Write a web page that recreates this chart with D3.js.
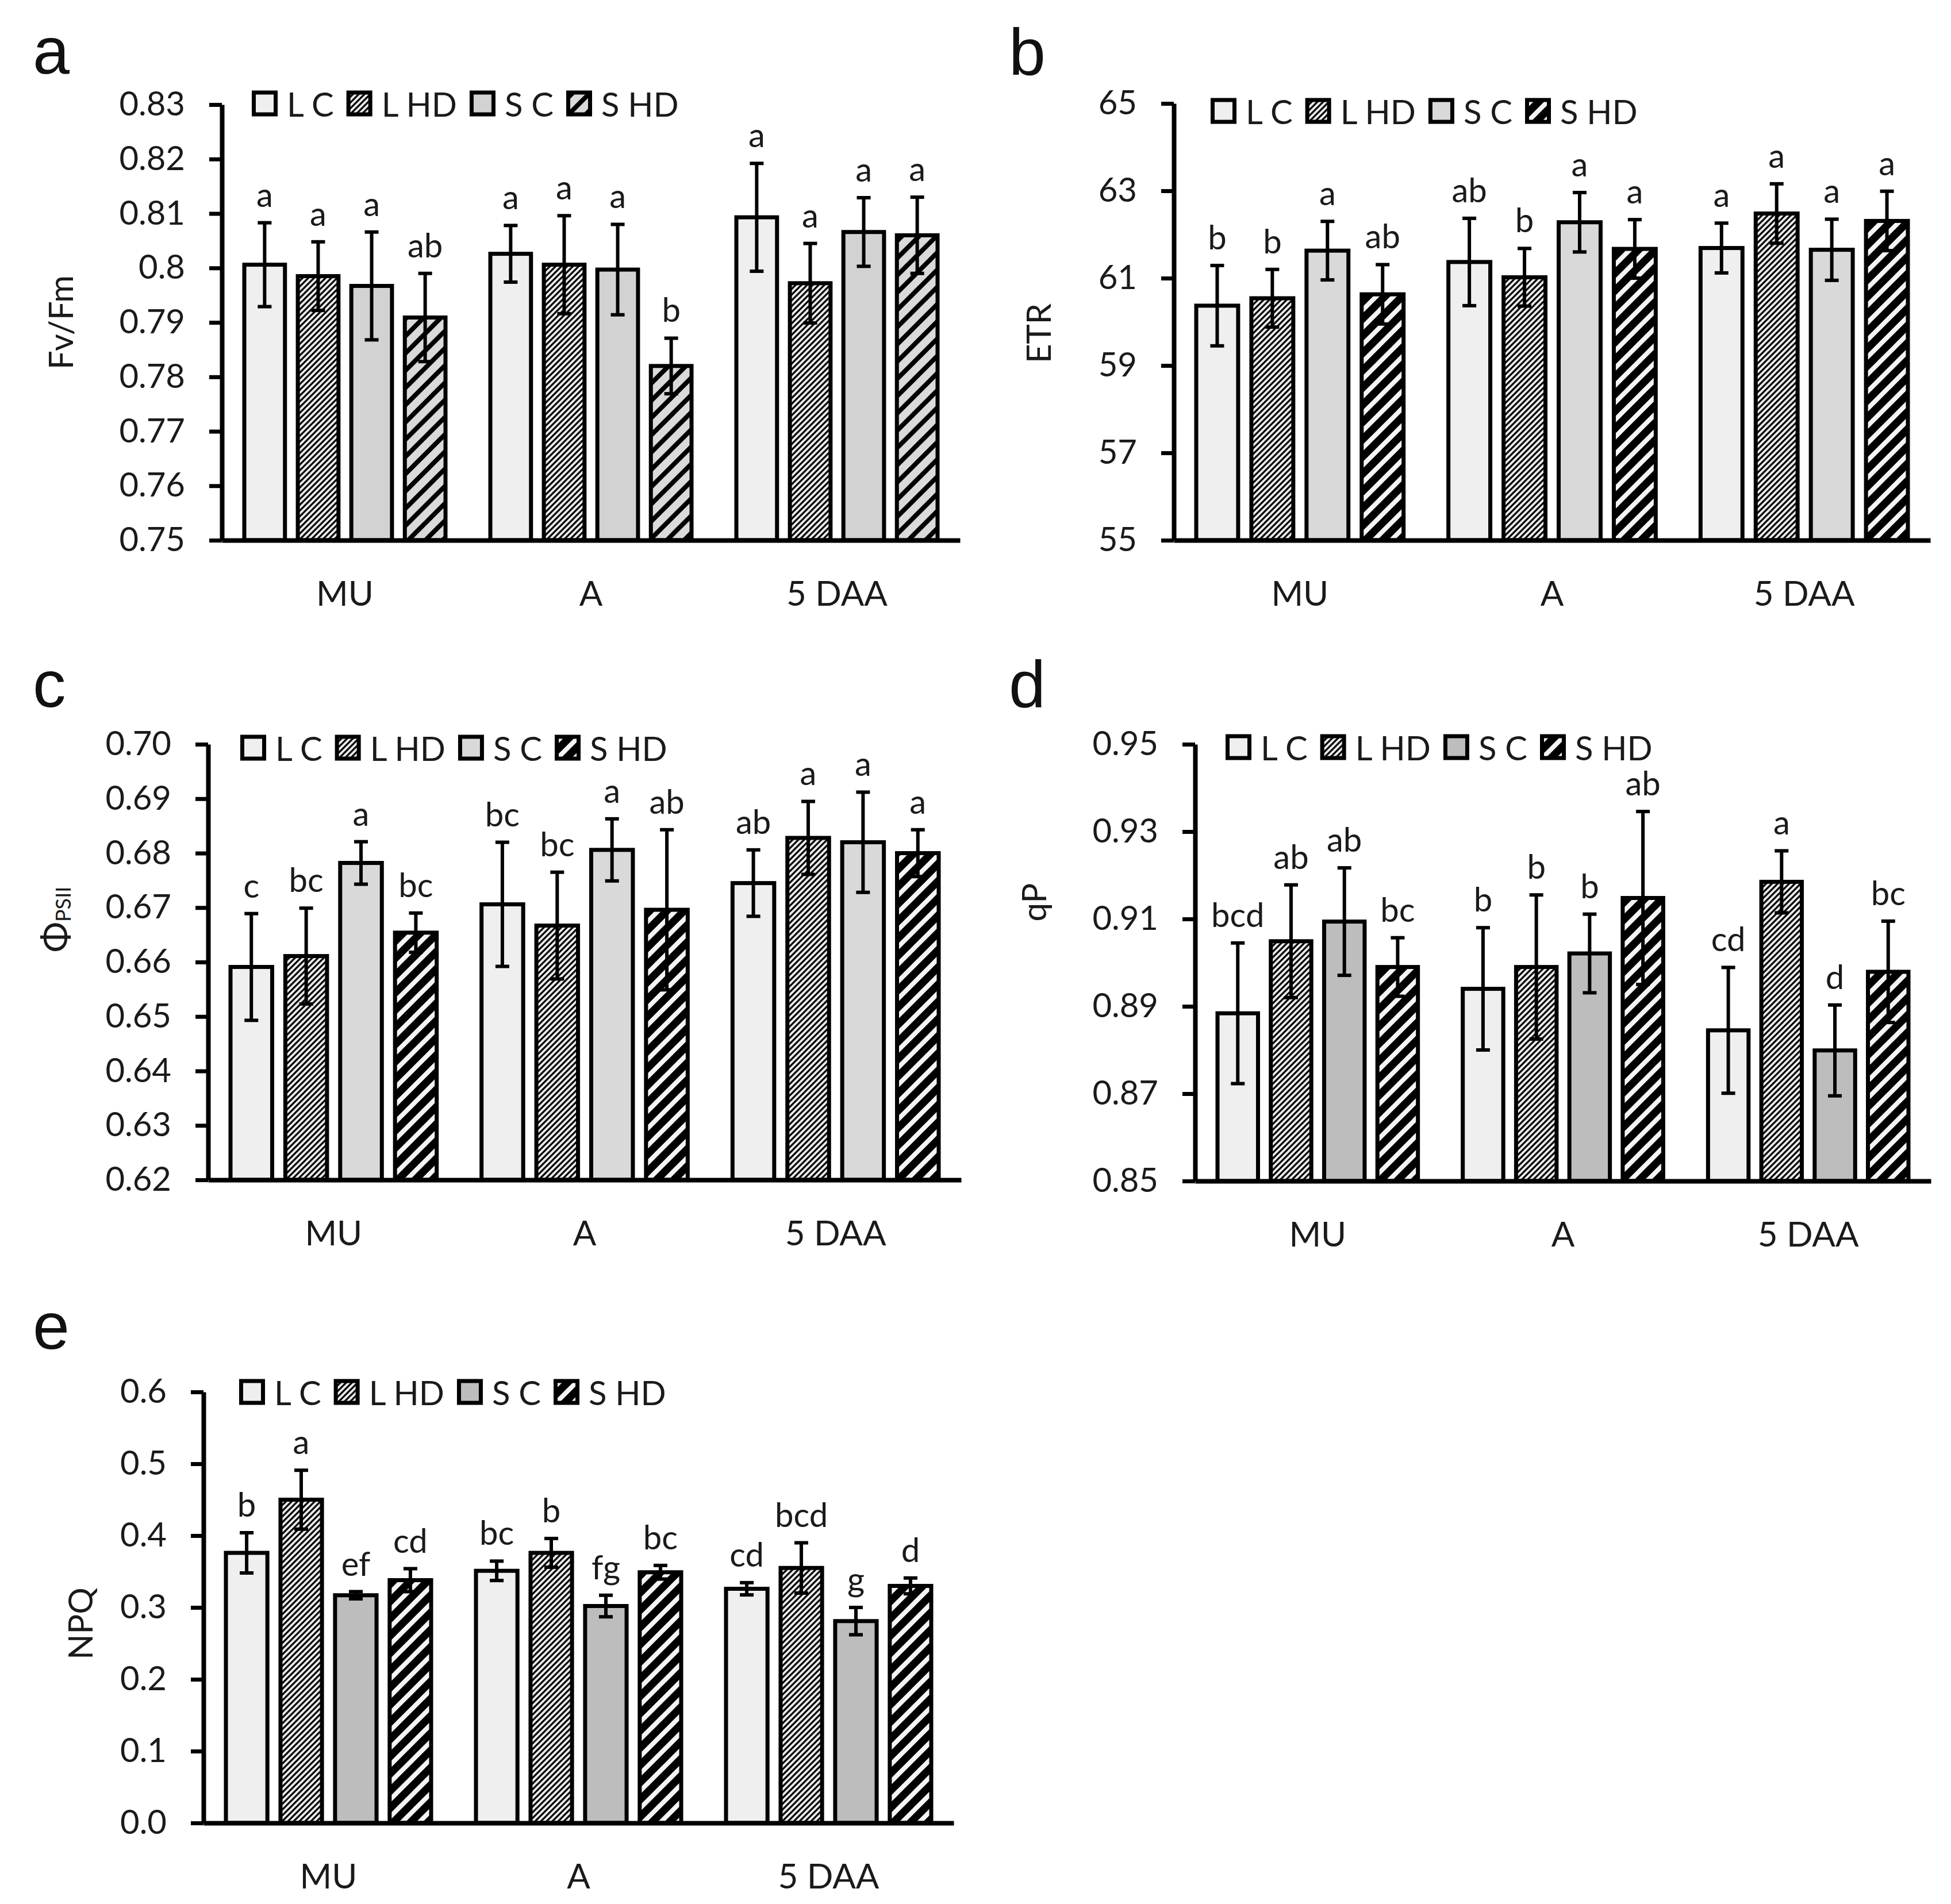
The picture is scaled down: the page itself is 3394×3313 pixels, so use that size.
<!DOCTYPE html>
<html>
<head>
<meta charset="utf-8">
<script src="https://cdn.jsdelivr.net/npm/d3@7/dist/d3.min.js"></script>
<style>
  html, body { margin: 0; padding: 0; background: #fff; }
</style>
</head>
<body>
<div id="chart"></div>
<script>
// ---------------- DATA ----------------
const categories = ['MU', 'A', '5 DAA'];
const seriesNames = ['L C', 'L HD', 'S C', 'S HD'];

// Fv/Fm  (rows: MU, A, 5 DAA ; cols: L C, L HD, S C, S HD)
const fvfmMean = [[0.8006, 0.7985, 0.7967, 0.7909], [0.8026, 0.8006, 0.7997, 0.7820], [0.8093, 0.7972, 0.8066, 0.8060]];
const fvfmErr  = [[0.0077, 0.0063, 0.0099, 0.0081], [0.0052, 0.0090, 0.0083, 0.0051], [0.0099, 0.0073, 0.0063, 0.0070]];
const fvfmLetters = [['a', 'a', 'a', 'ab'], ['a', 'a', 'a', 'b'], ['a', 'a', 'a', 'a']];
const fvfmTicks = [0.75, 0.76, 0.77, 0.78, 0.79, 0.80, 0.81, 0.82, 0.83];
const fvfmTickLabels = ['0.75', '0.76', '0.77', '0.78', '0.79', '0.8', '0.81', '0.82', '0.83'];

// ETR
const etrMean = [[60.37, 60.54, 61.63, 60.63], [61.37, 61.02, 62.28, 61.67], [61.69, 62.48, 61.65, 62.31]];
const etrErr  = [[0.92, 0.66, 0.67, 0.68], [1.00, 0.66, 0.68, 0.67], [0.57, 0.68, 0.70, 0.68]];
const etrLetters = [['b', 'b', 'a', 'ab'], ['ab', 'b', 'a', 'a'], ['a', 'a', 'a', 'a']];
const etrTicks = [55, 57, 59, 61, 63, 65];
const etrTickLabels = ['55', '57', '59', '61', '63', '65'];

// Phi PSII
const phiMean = [[0.6591, 0.6611, 0.6782, 0.6654], [0.6706, 0.6667, 0.6806, 0.6696], [0.6745, 0.6828, 0.6820, 0.6800]];
const phiErr  = [[0.0098, 0.0088, 0.0039, 0.0036], [0.0114, 0.0098, 0.0057, 0.0147], [0.0061, 0.0067, 0.0092, 0.0043]];
const phiLetters = [['c', 'bc', 'a', 'bc'], ['bc', 'bc', 'a', 'ab'], ['ab', 'a', 'a', 'a']];
const phiTicks = [0.62, 0.63, 0.64, 0.65, 0.66, 0.67, 0.68, 0.69, 0.70];
const phiTickLabels = ['0.62', '0.63', '0.64', '0.65', '0.66', '0.67', '0.68', '0.69', '0.70'];

// qP
const qpMean = [[0.8884, 0.9049, 0.9094, 0.8990], [0.8940, 0.8990, 0.9021, 0.9148], [0.8845, 0.9185, 0.8799, 0.8979]];
const qpErr  = [[0.0161, 0.0129, 0.0123, 0.0067], [0.0140, 0.0165, 0.0090, 0.0198], [0.0144, 0.0071, 0.0104, 0.0116]];
const qpLetters = [['bcd', 'ab', 'ab', 'bc'], ['b', 'b', 'b', 'ab'], ['cd', 'a', 'd', 'bc']];
const qpTicks = [0.85, 0.87, 0.89, 0.91, 0.93, 0.95];
const qpTickLabels = ['0.85', '0.87', '0.89', '0.91', '0.93', '0.95'];

// NPQ
const npqMean = [[0.376, 0.450, 0.317, 0.338], [0.351, 0.376, 0.302, 0.349], [0.326, 0.355, 0.281, 0.330]];
const npqErr  = [[0.028, 0.041, 0.005, 0.016], [0.0135, 0.020, 0.015, 0.0095], [0.0085, 0.035, 0.019, 0.011]];
const npqLetters = [['b', 'a', 'ef', 'cd'], ['bc', 'b', 'fg', 'bc'], ['cd', 'bcd', 'g', 'd']];
const npqTicks = [0, 0.1, 0.2, 0.3, 0.4, 0.5, 0.6];
const npqTickLabels = ['0.0', '0.1', '0.2', '0.3', '0.4', '0.5', '0.6'];

// ---------------- LAYOUT / STYLE ----------------
const W = 3394, H = 3313;
const FONT = "Lato, 'Open Sans', 'DejaVu Sans', sans-serif";
const TXT = '#1a1a1a';

const panels = [
  { letter: 'a', mean: fvfmMean, err: fvfmErr, letters: fvfmLetters, ticks: fvfmTicks, tickLabels: fvfmTickLabels,
    domain: [0.75, 0.83], left: 386, right: 1670, top: 182, bottom: 940,
    title: 'Fv/Fm', titleX: 104, titleY: 561, legendX: 438, legendY: 180, letterX: 57, letterY: 128,
    scFill: '#d2d2d2', shdFill: 'url(#shdLight)' },
  { letter: 'b', mean: etrMean, err: etrErr, letters: etrLetters, ticks: etrTicks, tickLabels: etrTickLabels,
    domain: [55, 65], left: 2042, right: 3358, top: 180, bottom: 940,
    title: 'ETR', titleX: 1805, titleY: 580, legendX: 2106, legendY: 193, letterX: 1755, letterY: 130,
    scFill: '#d9d9d9', shdFill: 'url(#shdDark)' },
  { letter: 'c', mean: phiMean, err: phiErr, letters: phiLetters, ticks: phiTicks, tickLabels: phiTickLabels,
    domain: [0.62, 0.70], left: 362, right: 1672, top: 1295, bottom: 2053,
    title: 'phi', titleX: 95, titleY: 1600, legendX: 418, legendY: 1301, letterX: 57, letterY: 1230,
    scFill: '#d9d9d9', shdFill: 'url(#shdDark)' },
  { letter: 'd', mean: qpMean, err: qpErr, letters: qpLetters, ticks: qpTicks, tickLabels: qpTickLabels,
    domain: [0.85, 0.95], left: 2079, right: 3359, top: 1295, bottom: 2055,
    title: 'qP', titleX: 1797, titleY: 1570, legendX: 2132, legendY: 1300, letterX: 1755, letterY: 1230,
    scFill: '#bdbdbd', shdFill: 'url(#shdDark)' },
  { letter: 'e', mean: npqMean, err: npqErr, letters: npqLetters, ticks: npqTicks, tickLabels: npqTickLabels,
    domain: [0, 0.6], left: 354, right: 1659, top: 2422, bottom: 3172,
    title: 'NPQ', titleX: 138, titleY: 2825, legendX: 416, legendY: 2422, letterX: 57, letterY: 2347,
    scFill: '#bdbdbd', shdFill: 'url(#shdDark)' }
];

// ---------------- DRAW ----------------
const svg = d3.select('#chart').append('svg')
  .attr('width', W).attr('height', H)
  .attr('xmlns', 'http://www.w3.org/2000/svg');
svg.append('rect').attr('width', W).attr('height', H).attr('fill', '#fff');

const defs = svg.append('defs');
function hatch(id, p, bg, fg, w) {
  const pat = defs.append('pattern').attr('id', id)
    .attr('patternUnits', 'userSpaceOnUse').attr('width', p).attr('height', p);
  pat.append('rect').attr('width', p).attr('height', p).attr('fill', bg);
  pat.append('path')
    .attr('d', `M${-p/4},${p/4}L${p/4},${-p/4}M0,${p}L${p},0M${3*p/4},${5*p/4}L${5*p/4},${3*p/4}`)
    .attr('stroke', fg).attr('stroke-width', w).attr('fill', 'none');
}
hatch('lhd', 10, '#e8e8e8', '#000', 3.1);
hatch('shdLight', 30, '#dadada', '#000', 8);
hatch('shdDark', 30, '#000', '#f4f4f4', 8);

function drawPanel(cfg) {
  const g = svg.append('g').attr('class', 'panel-' + cfg.letter);
  const x0 = d3.scaleBand().domain(categories).range([cfg.left, cfg.right]);
  const x1 = d3.scaleBand().domain(seriesNames).range([39, x0.bandwidth() - 39]).paddingInner(0.24);
  const y = d3.scaleLinear().domain(cfg.domain).range([cfg.bottom, cfg.top]);
  const fills = ['#efefef', 'url(#lhd)', cfg.scFill, cfg.shdFill];

  const rows = [];
  categories.forEach((c, ci) => seriesNames.forEach((s, si) => {
    rows.push({ c, s, si, v: cfg.mean[ci][si], e: cfg.err[ci][si], lab: cfg.letters[ci][si] });
  }));

  // bars
  g.append('g').selectAll('rect').data(rows).join('rect')
    .attr('x', d => x0(d.c) + x1(d.s))
    .attr('width', x1.bandwidth())
    .attr('y', d => y(d.v))
    .attr('height', d => y(cfg.domain[0]) - y(d.v))
    .attr('fill', d => fills[d.si])
    .attr('stroke', '#000').attr('stroke-width', 7);

  // error bars
  const eb = g.append('g').selectAll('g').data(rows).join('g')
    .attr('transform', d => `translate(${x0(d.c) + x1(d.s) + x1.bandwidth() / 2},0)`);
  eb.append('line')
    .attr('y1', d => y(d.v - d.e)).attr('y2', d => y(d.v + d.e))
    .attr('stroke', '#000').attr('stroke-width', 6);
  eb.append('line')
    .attr('x1', -12).attr('x2', 12)
    .attr('y1', d => y(d.v + d.e)).attr('y2', d => y(d.v + d.e))
    .attr('stroke', '#000').attr('stroke-width', 6);
  eb.append('line')
    .attr('x1', -12).attr('x2', 12)
    .attr('y1', d => y(d.v - d.e)).attr('y2', d => y(d.v - d.e))
    .attr('stroke', '#000').attr('stroke-width', 6);
  // significance letters
  eb.append('text')
    .attr('y', d => y(d.v + d.e) - 28)
    .attr('text-anchor', 'middle')
    .attr('font-family', FONT).attr('font-size', 58).attr('fill', TXT)
    .text(d => d.lab);

  // y axis
  const ya = g.append('g').attr('transform', `translate(${cfg.left},0)`)
    .call(d3.axisLeft(y).tickValues(cfg.ticks)
      .tickFormat(d => cfg.tickLabels[cfg.ticks.indexOf(d)])
      .tickSize(22).tickSizeOuter(0).tickPadding(42));
  ya.select('.domain').attr('stroke', '#000').attr('stroke-width', 8);
  ya.selectAll('.tick line').attr('stroke', '#000').attr('stroke-width', 7);
  ya.selectAll('.tick text').attr('font-family', FONT).attr('font-size', 58).attr('fill', TXT);

  // x axis
  const xa = g.append('g').attr('transform', `translate(0,${cfg.bottom})`)
    .call(d3.axisBottom(x0).tickSize(0).tickSizeOuter(0).tickPadding(71));
  xa.select('.domain').attr('stroke', '#000').attr('stroke-width', 8);
  xa.selectAll('.tick text').attr('font-family', FONT).attr('font-size', 60).attr('fill', TXT);

  // axis title
  const t = g.append('text')
    .attr('transform', `translate(${cfg.titleX},${cfg.titleY}) rotate(-90)`)
    .attr('text-anchor', 'middle').attr('dominant-baseline', 'central')
    .attr('font-family', FONT).attr('font-size', 58).attr('fill', TXT);
  if (cfg.title === 'phi') {
    t.append('tspan').attr('font-size', 64).text('Φ');
    t.append('tspan').attr('font-size', 36).attr('dy', 14).text('PSII');
  } else {
    t.text(cfg.title);
  }

  // legend
  const lg = g.append('g').attr('transform', `translate(${cfg.legendX},${cfg.legendY})`);
  let cx = 3.5;
  seriesNames.forEach((s, si) => {
    lg.append('rect').attr('x', cx).attr('y', -19).attr('width', 38).attr('height', 38)
      .attr('fill', fills[si]).attr('stroke', '#000').attr('stroke-width', 7);
    const tx = lg.append('text').attr('x', cx + 38 + 3.5 + 16).attr('y', 0)
      .attr('dominant-baseline', 'central')
      .attr('font-family', FONT).attr('font-size', 58).attr('fill', TXT).text(s);
    const w = tx.node().getComputedTextLength();
    cx = cx + 38 + 3.5 + 16 + w + 22 + 3.5;
  });

  // panel letter
  g.append('text').attr('x', cfg.letterX).attr('y', cfg.letterY)
    .attr('font-family', "'Liberation Sans', Arial, sans-serif").attr('font-size', 115).attr('fill', '#111')
    .text(cfg.letter);
}

panels.forEach(drawPanel);
</script>
</body>
</html>
